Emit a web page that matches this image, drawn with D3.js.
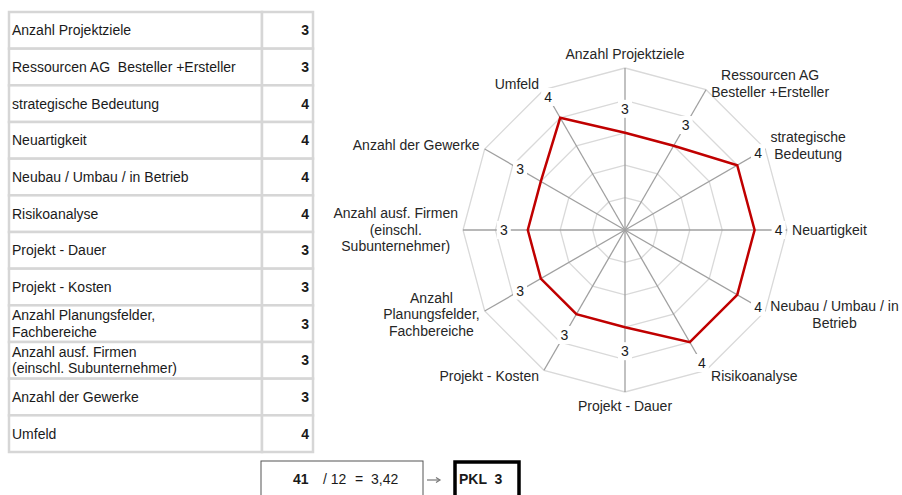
<!DOCTYPE html>
<html>
<head>
<meta charset="utf-8">
<script src="https://cdn.jsdelivr.net/npm/d3@7"></script>
<style>
  body { margin: 0; background: #fff; }
  svg { display: block; font-family: "Liberation Sans", Arial, sans-serif; }
</style>
</head>
<body>
<svg width="902" height="495"></svg>
<script>
// table rows (left) and radar axis labels (right), same order
var tableLabels = [
  "Anzahl Projektziele",
  "Ressourcen AG  Besteller +Ersteller",
  "strategische Bedeutung",
  "Neuartigkeit",
  "Neubau / Umbau / in Betrieb",
  "Risikoanalyse",
  "Projekt - Dauer",
  "Projekt - Kosten",
  "Anzahl Planungsfelder,\nFachbereiche",
  "Anzahl ausf. Firmen\n(einschl. Subunternehmer)",
  "Anzahl der Gewerke",
  "Umfeld"
];
var radarLabels = [
  "Anzahl Projektziele",
  "Ressourcen AG\nBesteller +Ersteller",
  "strategische\nBedeutung",
  "Neuartigkeit",
  "Neubau / Umbau / in\nBetrieb",
  "Risikoanalyse",
  "Projekt - Dauer",
  "Projekt - Kosten",
  "Anzahl\nPlanungsfelder,\nFachbereiche",
  "Anzahl ausf. Firmen\n(einschl.\nSubunternehmer)",
  "Anzahl der Gewerke",
  "Umfeld"
];
var values = [3, 3, 4, 4, 4, 4, 3, 3, 3, 3, 3, 4];
var ringTicks = [1, 2, 3, 4, 5];
var divisor = 12;

var svg = d3.select("svg");
var txtColor = "#1a1a1a";
var fs = 14;

// ---------- table ----------
var rowY = d3.scaleBand().domain(d3.range(tableLabels.length)).range([12, 452]);
var colX = { left: 9, mid: 262, right: 313 };

var rows = svg.append("g").selectAll("g")
  .data(tableLabels)
  .enter().append("g")
  .attr("transform", function(d, i) { return "translate(0," + rowY(i) + ")"; });

rows.append("rect")
  .attr("x", colX.left).attr("y", 0)
  .attr("width", colX.mid - colX.left).attr("height", rowY.bandwidth())
  .attr("fill", "#fff").attr("stroke", "#d6d6d6").attr("stroke-width", 2.5);
rows.append("rect")
  .attr("x", colX.mid).attr("y", 0)
  .attr("width", colX.right - colX.mid).attr("height", rowY.bandwidth())
  .attr("fill", "#fff").attr("stroke", "#d6d6d6").attr("stroke-width", 2.5);

rows.append("text")
  .attr("font-size", fs).attr("fill", txtColor)
  .attr("xml:space", "preserve")
  .style("white-space", "pre")
  .each(function(d) {
    var lines = d.split("\n");
    var t = d3.select(this);
    lines.forEach(function(l, k) {
      t.append("tspan")
        .attr("x", 12)
        .attr("y", rowY.bandwidth() / 2 + (k - (lines.length - 1) / 2) * 16.5)
        .attr("dy", "0.35em")
        .text(l);
    });
  });

rows.append("text")
  .attr("x", colX.right - 4).attr("y", rowY.bandwidth() / 2).attr("dy", "0.35em")
  .attr("text-anchor", "end").attr("font-size", fs).attr("font-weight", "bold")
  .attr("fill", txtColor)
  .text(function(d, i) { return values[i]; });

// ---------- radar ----------
var cx = 625, cy = 230;
var r = d3.scaleLinear().domain([0, 5]).range([0, 162]);
var n = radarLabels.length;
function ang(i) { return i * 2 * Math.PI / n; }
function pt(i, v) { return [cx + r(v) * Math.sin(ang(i)), cy - r(v) * Math.cos(ang(i))]; }

var radar = svg.append("g");

radar.selectAll("polygon.ring")
  .data(ringTicks)
  .enter().append("polygon")
  .attr("class", "ring")
  .attr("points", function(t) {
    return d3.range(n).map(function(i) { return pt(i, t).join(","); }).join(" ");
  })
  .attr("fill", "none").attr("stroke", "#d9d9d9").attr("stroke-width", 1.3);

radar.selectAll("line.spoke")
  .data(d3.range(n))
  .enter().append("line")
  .attr("class", "spoke")
  .attr("x1", cx).attr("y1", cy)
  .attr("x2", function(i) { return pt(i, 5)[0]; })
  .attr("y2", function(i) { return pt(i, 5)[1]; })
  .attr("stroke", "#a0a0a0").attr("stroke-width", 1.3);

var line = d3.lineRadial()
  .angle(function(d, i) { return ang(i); })
  .radius(function(d) { return r(d); })
  .curve(d3.curveLinearClosed);

radar.append("path")
  .attr("transform", "translate(" + cx + "," + cy + ")")
  .attr("d", line(values))
  .attr("fill", "none").attr("stroke", "#c00000").attr("stroke-width", 2.5);

// data labels
var vl = radar.selectAll("g.vlab")
  .data(values)
  .enter().append("g")
  .attr("class", "vlab")
  .attr("transform", function(v, i) {
    var rr = r(v) + 24;
    return "translate(" + (cx + rr * Math.sin(ang(i))) + "," + (cy - rr * Math.cos(ang(i))) + ")";
  });
vl.append("rect")
  .attr("x", -7).attr("y", -9).attr("width", 14).attr("height", 18)
  .attr("fill", "#fff");
vl.append("text")
  .attr("text-anchor", "middle").attr("dy", "0.35em")
  .attr("font-size", fs).attr("fill", txtColor)
  .text(function(v) { return v; });

// axis labels
var al = radar.selectAll("g.alab")
  .data(radarLabels)
  .enter().append("g")
  .attr("class", "alab");
al.append("text")
  .attr("text-anchor", "middle").attr("font-size", fs).attr("fill", "#262626")
  .each(function(d) {
    var lines = d.split("\n");
    var t = d3.select(this);
    lines.forEach(function(l, k) {
      t.append("tspan")
        .attr("x", 0)
        .attr("y", (k - (lines.length - 1) / 2) * 16.5)
        .attr("dy", "0.35em")
        .text(l);
    });
  });
al.attr("transform", function(d, i) {
  var b = d3.select(this).select("text").node().getBBox();
  var p = pt(i, 5);
  var dx = Math.sin(ang(i)), dy = -Math.cos(ang(i));
  var x, y;
  if (Math.abs(dx) < 0.01) {
    x = p[0];
    y = p[1] + Math.sign(dy) * (6 + b.height / 2);
  } else {
    x = p[0] + Math.sign(dx) * (5 + b.width / 2);
    y = p[1] + dy * 7;
  }
  return "translate(" + x + "," + y + ")";
});

// ---------- result boxes ----------
var total = d3.sum(values);
var avg = total / divisor;
var res = svg.append("g");
res.append("rect")
  .attr("x", 261).attr("y", 461).attr("width", 162).attr("height", 50)
  .attr("fill", "#fff").attr("stroke", "#555").attr("stroke-width", 1);
res.append("text")
  .attr("x", 293).attr("y", 484).attr("font-size", fs).attr("font-weight", "bold")
  .attr("fill", txtColor).text(total);
res.append("text")
  .attr("x", 323).attr("y", 484).attr("font-size", fs)
  .attr("fill", txtColor).text("/ " + divisor);
res.append("text")
  .attr("x", 355).attr("y", 484).attr("font-size", fs)
  .attr("fill", txtColor).attr("xml:space", "preserve").style("white-space", "pre")
  .text("=  " + avg.toFixed(2).replace(".", ","));
// arrow
res.append("line")
  .attr("x1", 427).attr("y1", 480).attr("x2", 439).attr("y2", 480)
  .attr("stroke", "#777").attr("stroke-width", 1.2);
res.append("path")
  .attr("d", "M436,477.5 L440,480 L436,482.5")
  .attr("fill", "none").attr("stroke", "#777").attr("stroke-width", 1.2);
res.append("rect")
  .attr("x", 455).attr("y", 462).attr("width", 64).attr("height", 50)
  .attr("fill", "#fff").attr("stroke", "#000").attr("stroke-width", 3.5);
res.append("text")
  .attr("x", 459).attr("y", 484).attr("font-size", fs).attr("font-weight", "bold")
  .attr("fill", txtColor).attr("xml:space", "preserve").style("white-space", "pre")
  .text("PKL  " + Math.round(avg));
</script>
</body>
</html>
